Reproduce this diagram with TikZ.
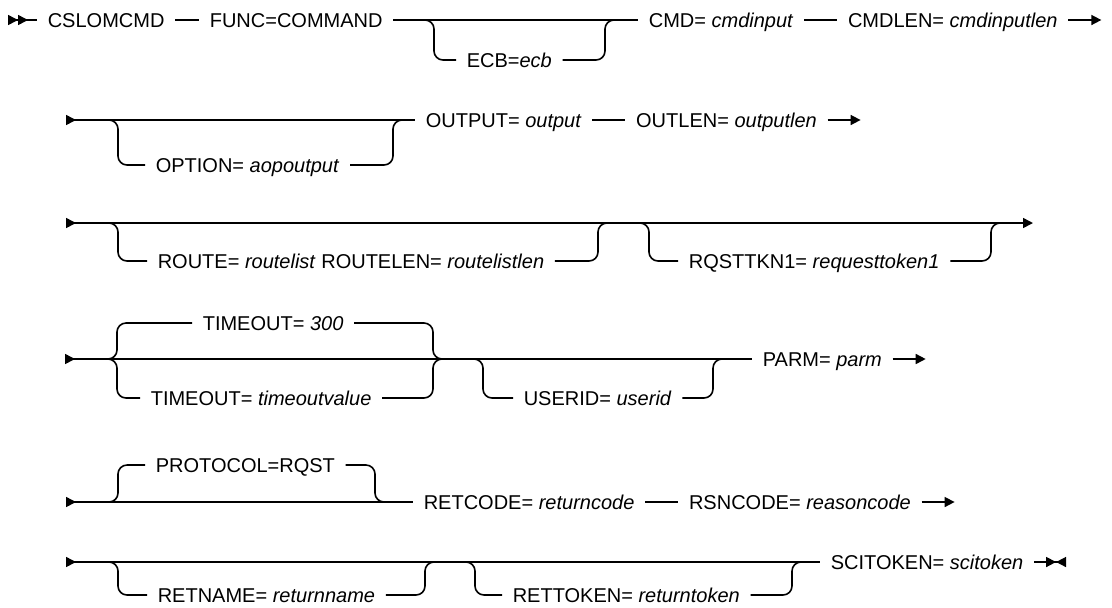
\documentclass[tikz,border=0pt]{standalone}
\usepackage{fontspec}
\setmainfont{Liberation Sans}
\usetikzlibrary{arrows.meta, positioning}

\begin{document}
\begin{tikzpicture}[
    x=0.5pt, y=-0.5pt,
    font=\fontsize{10}{12}\selectfont,
    line width=0.8pt,
    node distance=16.5pt,
    >={Triangle[length=5pt,width=5pt]},
    kw/.style={inner xsep=5pt, inner ysep=0pt, text height=9.2pt, text depth=2pt, anchor=west},
    branch/.style={rounded corners=4.5pt}
]
    \useasboundingbox (0,0) rectangle (1112,607);

    % row 1
    \coordinate (s1) at (8,20);
    \node[kw] (cslo) at (37,20) {CSLOMCMD};
    \node[kw] (func) at (199,20) {FUNC=COMMAND};
    \node[kw] (ecb) at (456,60) {ECB=\textit{ecb}};
    \node[kw] (cmd) at (638,20) {CMD= \textit{cmdinput}};
    \node[kw, right=of cmd] (cmdlen) {CMDLEN= \textit{cmdinputlen}};
    \coordinate[right=16.5pt of cmdlen] (e1);
    \coordinate (b1) at (434,20);
    \coordinate (j1) at (605,20);

    \draw[>>-] (s1) -- (cslo);
    \draw (cslo) -- (func);
    \draw (func) -- (cmd);
    \draw[branch] (b1) +(-10,0) -- (b1) |- (ecb);
    \draw[branch] (ecb) -| (j1) -- +(10,0);
    \draw (cmd) -- (cmdlen);
    \draw[->] (cmdlen) -- (e1);

    % row 2
    \coordinate (s2) at (66,120);
    \node[kw] (option) at (145,165) {OPTION= \textit{aopoutput}};
    \node[kw] (output) at (415,120) {OUTPUT= \textit{output}};
    \node[kw, right=of output] (outlen) {OUTLEN= \textit{outputlen}};
    \coordinate[right=16.5pt of outlen] (e2);
    \coordinate (b2) at (118,120);
    \coordinate (j2) at (393,120);

    \draw[>-] (s2) -- (output);
    \draw[branch] (b2) +(-10,0) -- (b2) |- (option);
    \draw[branch] (option) -| (j2) -- +(10,0);
    \draw (output) -- (outlen);
    \draw[->] (outlen) -- (e2);

    % row 3
    \coordinate (s3) at (66,223);
    \coordinate (e3) at (1033,223);
    \node[kw] (route) at (147,261) {ROUTE= \textit{routelist} ROUTELEN= \textit{routelistlen}};
    \node[kw] (rqst) at (678,261) {RQSTTKN1= \textit{requesttoken1}};
    \coordinate (b3a) at (118,223);
    \coordinate (j3a) at (598,223);
    \coordinate (b3b) at (649,223);
    \coordinate (j3b) at (991,223);

    \draw[>->] (s3) -- (e3);
    \draw[branch] (b3a) +(-10,0) -- (b3a) |- (route);
    \draw[branch] (route) -| (j3a) -- +(10,0);
    \draw[branch] (b3b) +(-10,0) -- (b3b) |- (rqst);
    \draw[branch] (rqst) -| (j3b) -- +(10,0);

    % row 4
    \coordinate (s4) at (65,359);
    \node[kw] (tdef) at (192,323) {TIMEOUT= \textit{300}};
    \node[kw] (tval) at (140,398) {TIMEOUT= \textit{timeoutvalue}};
    \node[kw] (userid) at (513,398) {USERID= \textit{userid}};
    \node[kw] (parm) at (752,359) {PARM= \textit{parm}};
    \coordinate[right=16.5pt of parm] (e4);
    \coordinate (b4a) at (117,359);
    \coordinate (j4a) at (433,359);
    \coordinate (b4b) at (483,359);
    \coordinate (j4b) at (713,359);

    \draw[>-] (s4) -- (parm);
    \draw[branch] (b4a) +(-10,0) -- (b4a) |- (tdef);
    \draw[branch] (tdef) -| (j4a) -- +(10,0);
    \draw[branch] (b4a) +(-10,0) -- (b4a) |- (tval);
    \draw[branch] (tval) -| (j4a) -- +(10,0);
    \draw[branch] (b4b) +(-10,0) -- (b4b) |- (userid);
    \draw[branch] (userid) -| (j4b) -- +(10,0);
    \draw[->] (parm) -- (e4);

    % row 5
    \coordinate (s5) at (66,502);
    \node[kw] (proto) at (145,465) {PROTOCOL=RQST};
    \node[kw] (retcode) at (413,502) {RETCODE= \textit{returncode}};
    \node[kw, right=of retcode] (rsncode) {RSNCODE= \textit{reasoncode}};
    \coordinate[right=16.5pt of rsncode] (e5);
    \coordinate (b5) at (118,502);
    \coordinate (j5) at (375,502);

    \draw[>-] (s5) -- (retcode);
    \draw[branch] (b5) +(-10,0) -- (b5) |- (proto);
    \draw[branch] (proto) -| (j5) -- +(10,0);
    \draw (retcode) -- (rsncode);
    \draw[->] (rsncode) -- (e5);

    % row 6
    \coordinate (s6) at (66,562);
    \node[kw] (retname) at (147,595) {RETNAME= \textit{returnname}};
    \node[kw] (rettoken) at (502,595) {RETTOKEN= \textit{returntoken}};
    \node[kw] (scitoken) at (820,562) {SCITOKEN= \textit{scitoken}};
    \coordinate[right=16pt of scitoken] (e6);
    \coordinate (b6a) at (118,562);
    \coordinate (j6a) at (425,562);
    \coordinate (b6b) at (475,562);
    \coordinate (j6b) at (792,562);

    \draw[>-] (s6) -- (scitoken);
    \draw[branch] (b6a) +(-10,0) -- (b6a) |- (retname);
    \draw[branch] (retname) -| (j6a) -- +(10,0);
    \draw[branch] (b6b) +(-10,0) -- (b6b) |- (rettoken);
    \draw[branch] (rettoken) -| (j6b) -- +(10,0);
    \draw[-><] (scitoken) -- (e6);
\end{tikzpicture}
\end{document}
